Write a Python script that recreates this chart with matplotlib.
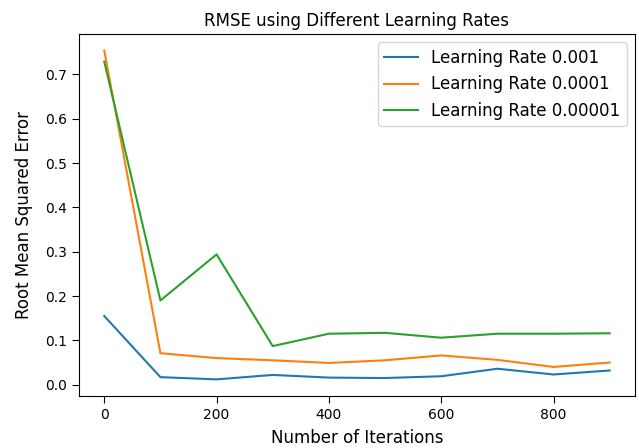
import matplotlib
matplotlib.use("Agg")
import matplotlib.pyplot as plt

# iterations and RMSE readings for each learning rate
iterations = [0, 100, 200, 300, 400, 500, 600, 700, 800, 900]
rmse_1e3 = [0.155, 0.017, 0.012, 0.022, 0.016, 0.015, 0.019, 0.036, 0.023, 0.032]
rmse_1e4 = [0.754, 0.071, 0.060, 0.055, 0.049, 0.055, 0.066, 0.056, 0.040, 0.050]
rmse_1e5 = [0.729, 0.190, 0.294, 0.087, 0.115, 0.117, 0.106, 0.115, 0.115, 0.116]
labels = ["Learning Rate 0.001", "Learning Rate 0.0001", "Learning Rate 0.00001"]

fig, ax = plt.subplots(figsize=(6.39, 4.48), dpi=100)
fig.subplots_adjust(left=0.1236, right=0.9937, top=0.924, bottom=0.1165)

for series, label in zip([rmse_1e3, rmse_1e4, rmse_1e5], labels):
    ax.plot(iterations, series, label=label)

ax.tick_params(length=5)
ax.set_title("RMSE using Different Learning Rates", fontsize=12)
ax.set_xlabel("Number of Iterations", fontsize=12, labelpad=5)
ax.set_ylabel("Root Mean Squared Error", fontsize=12, labelpad=9)
ax.legend(loc="upper right", fontsize=12)

fig.savefig("out.png", dpi=100)
